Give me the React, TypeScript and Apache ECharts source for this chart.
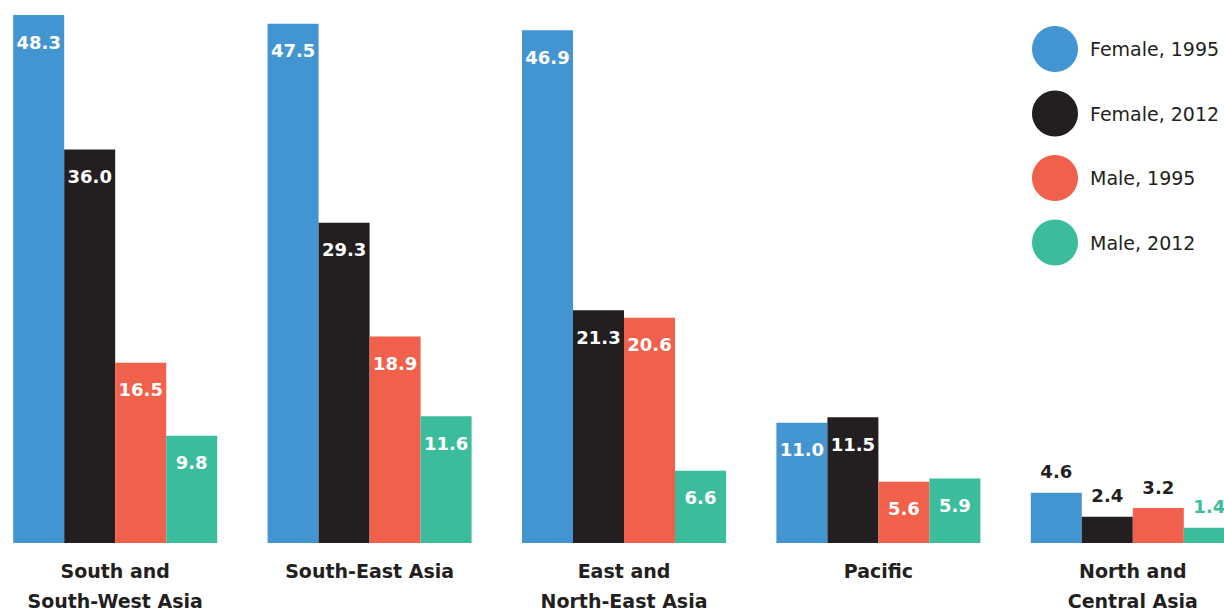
import React, { useEffect, useRef } from "react";
import * as echarts from "echarts";

const categories = [
  "South and\nSouth-West Asia",
  "South-East Asia",
  "East and\nNorth-East Asia",
  "Pacific",
  "North and\nCentral Asia",
];
const seriesNames = ["Female, 1995", "Female, 2012", "Male, 1995", "Male, 2012"];
const female1995 = [48.3, 47.5, 46.9, 11.0, 4.6];
const female2012 = [36.0, 29.3, 21.3, 11.5, 2.4];
const male1995 = [16.5, 18.9, 20.6, 5.6, 3.2];
const male2012 = [9.8, 11.6, 6.6, 5.9, 1.4];
const colors = ["#4395d1", "#231f20", "#f0604b", "#3bbd9d"];
const outsideLabelColors = ["#231f20", "#231f20", "#231f20", "#3bbd9d"];

const FONT = "'DejaVu Sans', sans-serif";

export default function App() {
  const ref = useRef<HTMLDivElement>(null);
  useEffect(() => {
    if (!ref.current) return;
    const chart = echarts.init(ref.current, undefined, { renderer: "svg" });
    const all = [female1995, female2012, male1995, male2012];
    const series = all.map((vals, si) => ({
      name: seriesNames[si],
      type: "bar",
      barWidth: 51,
      barGap: "0%",
      itemStyle: { color: colors[si] },
      label: {
        show: true,
        position: "insideTop",
        distance: 18,
        color: "#ffffff",
        fontFamily: FONT,
        fontWeight: "bold",
        fontSize: 18,
        formatter: (p: any) => Number(p.value).toFixed(1),
      },
      data: vals.map((v, ci) =>
        ci === 4
          ? {
              value: v,
              label: {
                position: "top",
                distance: 12,
                color: outsideLabelColors[si],
              },
            }
          : { value: v }
      ),
    }));
    chart.setOption({
      animation: false,
      color: colors,
      grid: {
        left: -12,
        width: 1272,
        top: 15,
        bottom: 69,
        containLabel: false,
        outerBoundsMode: "none",
      },
      legend: {
        orient: "vertical",
        left: 1032,
        top: 26,
        padding: 0,
        icon: "circle",
        itemWidth: 46,
        itemHeight: 46,
        itemGap: 18.5,
        data: seriesNames,
        textStyle: { color: "#231f20", fontSize: 19, fontFamily: FONT, fontWeight: "normal", padding: [0, 0, 0, 7] },
      },
      xAxis: {
        type: "category",
        data: categories,
        axisLine: { show: false },
        axisTick: { show: false },
        axisLabel: {
          margin: 13,
          color: "#231f20",
          fontFamily: FONT,
          fontWeight: "bold",
          fontSize: 19,
          lineHeight: 30,
          interval: 0,
        },
      },
      yAxis: {
        type: "value",
        min: 0,
        max: 48.3,
        show: false,
        splitLine: { show: false },
      },
      series,
    });
    return () => chart.dispose();
  }, []);
  return (
    <div
      ref={ref}
      style={{ position: "fixed", left: 0, top: 0, width: 1224, height: 612, background: "#fff" }}
    />
  );
}
